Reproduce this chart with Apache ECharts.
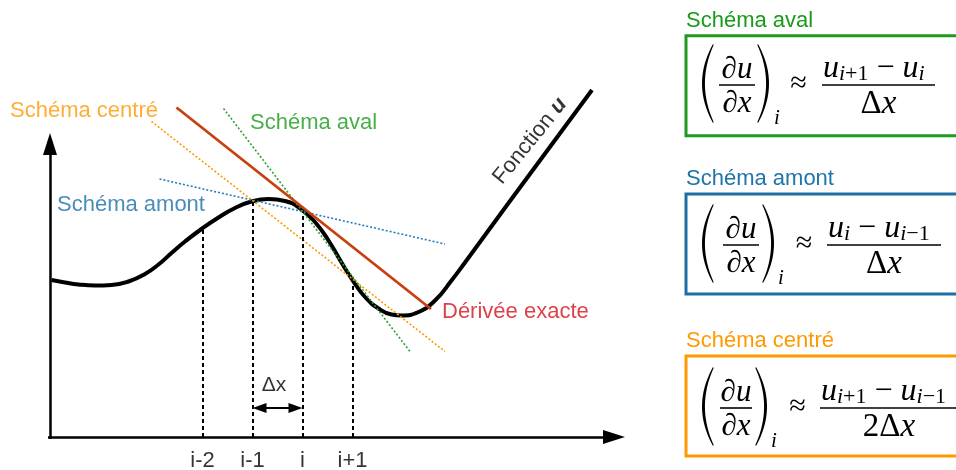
<!DOCTYPE html>
<html><head><meta charset="utf-8">
<script src="https://cdn.jsdelivr.net/npm/echarts@6/dist/echarts.min.js"></script>
<style>html,body{margin:0;padding:0;background:#fff}#c{width:956px;height:470px}</style>
</head><body><div id="c"></div>
<script>
// ---------- data (diagram units: x in Δx steps, y in function units) ----------
const curveX = [-0.02,0.25,0.52,0.85,1.18,1.52,1.85,2.12,2.38,2.65,2.98,3.32,3.65,3.98,4.32,4.65,4.98,5.25,5.52,5.78,6.02,6.25,6.52,6.78,6.98,7.32,7.65,7.98,8.25,9.15,10.79];
const curveY = [3.14,3.09,3.05,3.03,3.04,3.11,3.26,3.45,3.68,3.91,4.16,4.39,4.58,4.71,4.76,4.72,4.55,4.30,3.93,3.49,3.11,2.80,2.57,2.45,2.43,2.50,2.73,3.13,3.49,4.72,6.94];
const nodeX = [3, 4, 5, 6];
const nodeU = [4.15, 4.71, 4.5, 3.11];
const tickLabels = ['i-2', 'i-1', 'i', 'i+1'];
const exactLineX = [2.48, 7.57];   const exactLineY = [6.59, 2.56];
const avalLineX = [3.42, 7.15];    const avalLineY = [6.57, 1.71];
const amontLineX = [2.14, 7.85];   const amontLineY = [5.16, 3.86];
const centreLineX = [1.98, 7.85];  const centreLineY = [6.31, 1.71];
const xAxisSpan = [-0.09, 11.23];
const yAxisSpan = [-0.04, 5.86];
const dxSpan = [4.14, 4.86];
const annotationTexts = ['Schéma centré', 'Schéma aval', 'Schéma amont', 'Dérivée exacte'];
const boxTitles = ['Schéma aval', 'Schéma amont', 'Schéma centré'];
const numerators = [[['u','i+1'],['u','i']], [['u','i'],['u','i−1']], [['u','i+1'],['u','i−1']]];
const denominators = ['Δx', 'Δx', '2Δx'];

// ---------- layout / style ----------
const X_MIN = -1.05, X_MAX = 18.07, Y_MIN = -0.66, Y_MAX = 8.74;
const annotationLayout = [
  {x: -0.85, y: 6.53, color: '#ff9900'},
  {x: 3.95, y: 6.29, color: '#1a9a1a'},
  {x: 0.09, y: 4.64, color: '#1a70a8'},
  {x: 7.79, y: 2.51, color: '#d4121a'}
];
const boxLayout = [
  {top: 35.7, color: '#1e9b1e', title: '#1a9a1a', lineY: 85,  pl: 702, fx1: 719, fx2: 755, pr: 757, sub: 777, approx: 798.5, nx1: 822, nx2: 935},
  {top: 194,  color: '#1d6ea3', title: '#1f74ab', lineY: 245, pl: 702, fx1: 723, fx2: 759, pr: 762, sub: 781, approx: 804,   nx1: 827, nx2: 941},
  {top: 356,  color: '#ff9900', title: '#ff9900', lineY: 408, pl: 702, fx1: 720, fx2: 752, pr: 755, sub: 774, approx: 797.5, nx1: 820, nx2: 958}
];
const zip = (a, b) => a.map((v, i) => [v, b[i]]);
const SERIF = 'Liberation Serif';

function paren(xEnd, xBulge, yTop, yBot, thick) {
  const pts = [], n = 24, ym = (yTop + yBot) / 2;
  const c1 = 2 * xBulge - xEnd, c2 = 2 * (xBulge + thick) - xEnd;
  const endT = thick * 0.25;
  for (let i = 0; i <= n; i++) {
    const t = i / n, a = (1 - t) * (1 - t), b = 2 * t * (1 - t), c = t * t;
    pts.push([a * xEnd + b * c1 + c * xEnd, a * yTop + b * ym + c * yBot]);
  }
  for (let i = n; i >= 0; i--) {
    const t = i / n, a = (1 - t) * (1 - t), b = 2 * t * (1 - t), c = t * t;
    pts.push([a * (xEnd + endT) + b * c2 + c * (xEnd + endT), a * (yTop + 1) + b * ym + c * (yBot - 1)]);
  }
  return pts;
}
const richMath = {
  m:  {fontFamily: SERIF, fontStyle: 'italic', fontSize: 32, fill: '#000', lineHeight: 38, verticalAlign: 'bottom'},
  d:  {fontFamily: SERIF, fontStyle: 'normal', fontSize: 32, fill: '#000', lineHeight: 38, verticalAlign: 'bottom'},
  si: {fontFamily: SERIF, fontStyle: 'italic', fontSize: 22, fill: '#000', lineHeight: 25, verticalAlign: 'bottom'},
  su: {fontFamily: SERIF, fontStyle: 'normal', fontSize: 22, fill: '#000', lineHeight: 25, verticalAlign: 'bottom'}
};
function termRich(t) {
  const sub = t[1];
  let s = '{m|' + t[0] + '}{si|' + sub[0] + '}';
  if (sub.length > 1) s += '{su|' + sub.slice(1) + '}';
  return s;
}
function txt(x, y, text, font, align, vAlign, extra) {
  return {type: 'text', x: x, y: y, z: 10, style: Object.assign({
    text: text, font: font, fill: '#000', align: align, verticalAlign: vAlign, textAlign: align, textVerticalAlign: vAlign
  }, extra || {})};
}
function buildBox(k) {
  const L = boxLayout[k], ly = L.lineY, els = [];
  els.push(txt(686, L.top - 15, boxTitles[k], '22px "Liberation Sans"', 'left', 'middle', {fill: L.title}));
  els.push({type: 'rect', z: 5, shape: {x: 686, y: L.top, width: 320, height: 100}, style: {fill: '#fff', stroke: L.color, lineWidth: 3}});
  els.push({type: 'polygon', z: 10, shape: {points: paren(L.pl + 11, L.pl, ly - 41, ly + 38, 2.6)}, style: {fill: '#000'}});
  els.push({type: 'polygon', z: 10, shape: {points: paren(L.pr + 1, L.pr + 12, ly - 41, ly + 38, -2.6)}, style: {fill: '#000'}});
  els.push({type: 'line', z: 10, shape: {x1: L.fx1, y1: ly, x2: L.fx2, y2: ly}, style: {stroke: '#000', lineWidth: 1.6}});
  const fc = (L.fx1 + L.fx2) / 2;
  els.push(txt(fc, ly - 15, '∂u', 'italic 31px "' + SERIF + '"', 'center', 'middle'));
  els.push(txt(fc, ly + 19, '∂x', 'italic 31px "' + SERIF + '"', 'center', 'middle'));
  els.push(txt(L.sub, ly + 33, 'i', 'italic 21px "' + SERIF + '"', 'center', 'middle'));
  els.push(txt(L.approx, ly - 1, '≈', '30px "' + SERIF + '"', 'center', 'middle'));
  els.push({type: 'line', z: 10, shape: {x1: L.nx1, y1: ly, x2: L.nx2, y2: ly}, style: {stroke: '#000', lineWidth: 1.6}});
  const num = numerators[k];
  const numText = termRich(num[0]) + '{d| − }' + termRich(num[1]);
  els.push(txt(L.nx1 + 1, ly, numText, 'italic 32px "' + SERIF + '"', 'left', 'bottom', {rich: richMath}));
  const den = denominators[k];
  const denText = '{d|' + den.slice(0, -1) + '}{m|' + den.slice(-1) + '}';
  els.push(txt((L.nx1 + L.nx2) / 2, ly + 19, denText, 'italic 32px "' + SERIF + '"', 'center', 'middle', {rich: {
    m: {fontFamily: SERIF, fontStyle: 'italic', fontSize: 33, fill: '#000'},
    d: {fontFamily: SERIF, fontStyle: 'normal', fontSize: 33, fill: '#000'}
  }}));
  return els;
}

const chart = echarts.init(document.getElementById('c'), null, {renderer: 'canvas'});
const dotted = (color) => ({color: color, width: 1.6, type: [2, 2]});
const tangent = (name, xs, ys, style) => ({
  name: name, type: 'line', data: zip(xs, ys), showSymbol: false, symbol: 'none', silent: true, z: 4,
  lineStyle: style
});
const option = {
  animation: false,
  backgroundColor: '#fff',
  grid: {left: 0, right: 0, top: 0, bottom: 0},
  xAxis: {type: 'value', min: X_MIN, max: X_MAX, show: false},
  yAxis: {type: 'value', min: Y_MIN, max: Y_MAX, show: false},
  series: [
    {
      name: 'nodes', type: 'line', data: [], silent: true, z: 2,
      markLine: {
        silent: true, animation: false, symbol: ['none', 'none'], label: {show: false},
        lineStyle: {color: '#000', width: 2, type: [4, 3]},
        emphasis: {disabled: true},
        data: nodeX.map((x, k) => [{coord: [x, 0]}, {coord: [x, nodeU[k]]}])
      }
    },
    {
      name: 'Fonction u', type: 'line', data: zip(curveX, curveY), smooth: 0.5, showSymbol: false, symbol: 'none', silent: true, z: 3,
      lineStyle: {color: '#000', width: 4}
    },
    tangent('Schéma amont', amontLineX, amontLineY, dotted('#2a7bb5')),
    tangent('Schéma centré', centreLineX, centreLineY, dotted('#ff9900')),
    tangent('Schéma aval', avalLineX, avalLineY, dotted('#2ca02c')),
    tangent('Dérivée exacte', exactLineX, exactLineY, {color: '#c8400f', width: 2.8, type: 'solid'}),
    {
      name: 'axes', type: 'line', data: [], silent: true, z: 5,
      markLine: {
        silent: true, animation: false, label: {show: false}, emphasis: {disabled: true},
        lineStyle: {color: '#000', width: 2.5, type: 'solid'},
        data: [
          [{coord: [xAxisSpan[0], 0], symbol: 'none'}, {coord: [xAxisSpan[1], 0], symbol: 'triangle', symbolSize: [14, 22]}],
          [{coord: [-0.05, yAxisSpan[0]], symbol: 'none'}, {coord: [-0.05, yAxisSpan[1]], symbol: 'triangle', symbolSize: [14, 22]}],
          [{coord: [dxSpan[0], 0.58], symbol: 'triangle', symbolSize: [10, 14]}, {coord: [dxSpan[1], 0.58], symbol: 'triangle', symbolSize: [10, 14], lineStyle: {width: 2}}]
        ]
      }
    },
    {
      name: 'annotations', type: 'scatter', symbolSize: 0, silent: true, z: 8,
      label: {show: true, position: 'right', distance: 0, formatter: '{b}', fontFamily: 'Liberation Sans', fontSize: 22},
      data: annotationTexts.map((t, k) => ({name: t, value: [annotationLayout[k].x, annotationLayout[k].y], label: {color: annotationLayout[k].color}}))
    },
    {
      name: 'ticks', type: 'scatter', symbolSize: 0, silent: true, z: 8,
      label: {show: true, position: 'inside', formatter: '{b}', fontFamily: 'Liberation Sans', fontSize: 22, color: '#000'},
      data: tickLabels.map((t, k) => ({name: t, value: [nodeX[k], -0.48]}))
    },
    {
      name: 'misc', type: 'scatter', symbolSize: 0, silent: true, z: 8,
      data: [
        {name: 'Δx', value: [4.43, 1.04], label: {show: true, position: 'inside', formatter: '{b}', fontFamily: 'Liberation Sans', fontSize: 21, color: '#000'}},
        {name: 'Fonction u', value: [9.55, 5.92], label: {show: true, position: 'inside', rotate: 51, formatter: '{a|Fonction }{b|u}', color: '#000',
          rich: {a: {fontFamily: 'Liberation Sans', fontSize: 22, color: '#000'}, b: {fontFamily: 'Liberation Sans', fontSize: 22, fontWeight: 'bold', fontStyle: 'italic', color: '#000'}}}}
      ]
    }
  ],
  graphic: {elements: [].concat(buildBox(0), buildBox(1), buildBox(2))}
};
chart.setOption(option);
</script>
</body></html>
